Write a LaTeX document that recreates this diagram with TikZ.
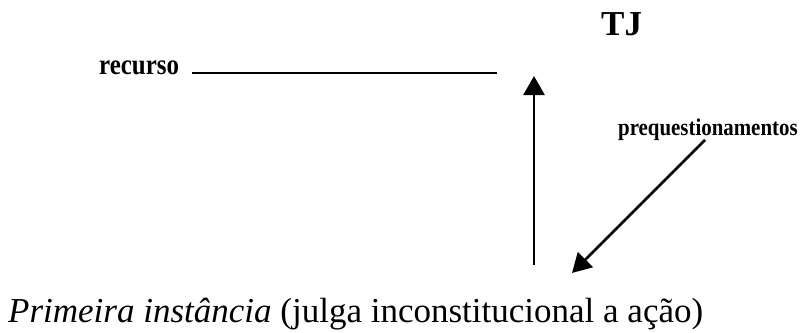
\documentclass[tikz,border=0pt]{standalone}
\usepackage{fontspec}
\usepackage{graphicx}
\setmainfont{Liberation Serif}
\usetikzlibrary{arrows.meta}

\tikzset{
  seta/.style={line width=2.6pt, -{Triangle[length=19pt,width=21pt]}},
  rotulo/.style={inner sep=0pt, anchor=base west, font={\bfseries\fontsize{24}{24}\selectfont}}
}

\begin{document}
\begin{tikzpicture}[x=1pt,y=-1pt]

\useasboundingbox (0,0) rectangle (808,332);

\node [inner sep=0pt, anchor=base west, font={\bfseries\fontsize{35}{35}\selectfont}] (tj)
 at (601, 35) {TJ};

\node [rotulo, font={\bfseries\fontsize{29}{29}\selectfont}] (recurso) at (99, 74)
 {\scalebox{0.86}[1]{recurso}};
\coordinate (fim-recurso) at (497, 73);
\draw [line width=2.6pt] (192, 73) coordinate (ini-recurso) -- (fim-recurso);

% seta para o TJ
\coordinate (base-vert) at (534, 265);
\coordinate (topo-vert) at (534, 76);
\draw [seta] (base-vert) -- (topo-vert);

\node [rotulo] (preq) at (618, 135) {\scalebox{0.87}[1]{prequestionamentos}};
\coordinate (ini-diag) at (705, 140);
\coordinate (fim-diag) at (572, 273);
\draw [seta] (ini-diag) -- (fim-diag);

\node [inner sep=0pt, anchor=base west, font={\fontsize{35}{35}\selectfont}] (primeira)
 at (8, 322) {\textit{Primeira instância} (julga inconstitucional a ação)};

\end{tikzpicture}
\end{document}
